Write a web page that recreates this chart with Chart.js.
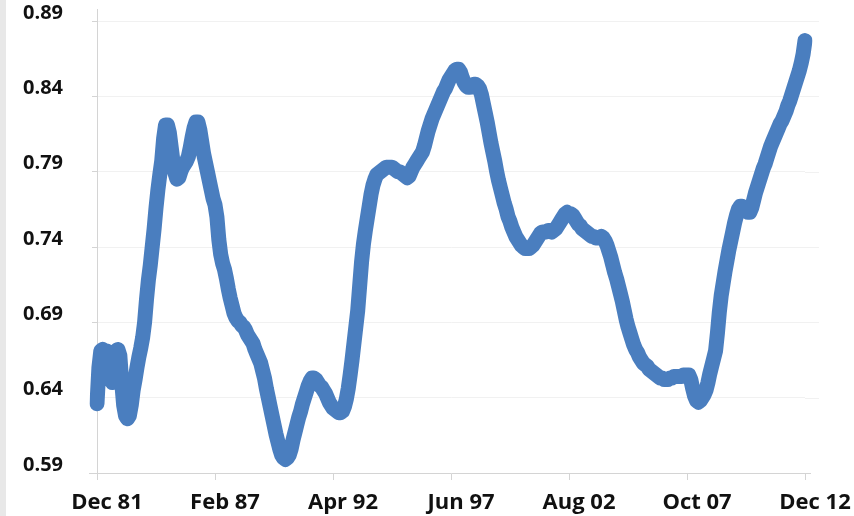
<!DOCTYPE html>
<html>
<head>
<meta charset="utf-8">
<script src="https://cdn.jsdelivr.net/npm/chart.js@4.4.1/dist/chart.umd.min.js"></script>
<style>
  html, body { margin: 0; padding: 0; background: #ffffff; }
  #wrap { width: 854px; height: 516px; }
</style>
</head>
<body>
<div id="wrap"><canvas id="chart" width="854" height="516"></canvas></div>
<script>
// Monthly series, December 1981 through December 2012
const monthNames = ['Jan','Feb','Mar','Apr','May','Jun','Jul','Aug','Sep','Oct','Nov','Dec'];
const startYear = 1981, startMonth = 11, monthCount = 373;
const categories = [];
for (let k = 0; k < monthCount; k++) {
  const m = (startMonth + k) % 12;
  const y = startYear + Math.floor((startMonth + k) / 12);
  categories.push(monthNames[m] + ' ' + String(y % 100).padStart(2, '0'));
}

const ratioValues = [
  0.636,0.660,0.671,0.672,0.671,0.671,0.669,0.660,0.650,0.665,
  0.671,0.672,0.668,0.650,0.635,0.628,0.626,0.628,0.635,0.645,
  0.652,0.660,0.667,0.673,0.680,0.690,0.705,0.718,0.728,0.740,
  0.752,0.766,0.778,0.788,0.797,0.812,0.821,0.821,0.816,0.806,
  0.796,0.789,0.785,0.786,0.790,0.793,0.795,0.797,0.800,0.806,
  0.813,0.819,0.823,0.823,0.818,0.810,0.802,0.796,0.790,0.784,
  0.778,0.772,0.768,0.760,0.745,0.735,0.729,0.725,0.719,0.712,
  0.706,0.701,0.696,0.693,0.691,0.690,0.688,0.687,0.685,0.682,
  0.680,0.678,0.676,0.672,0.669,0.666,0.663,0.658,0.653,0.646,
  0.640,0.634,0.628,0.622,0.616,0.611,0.606,0.602,0.600,0.599,
  0.600,0.602,0.606,0.612,0.617,0.622,0.627,0.631,0.636,0.640,
  0.644,0.648,0.651,0.653,0.653,0.652,0.650,0.648,0.647,0.645,
  0.643,0.640,0.637,0.635,0.633,0.632,0.631,0.630,0.630,0.631,
  0.634,0.639,0.646,0.655,0.665,0.676,0.687,0.698,0.714,0.730,
  0.742,0.751,0.759,0.767,0.775,0.781,0.785,0.788,0.789,0.790,
  0.791,0.792,0.793,0.793,0.793,0.793,0.792,0.791,0.790,0.790,
  0.789,0.788,0.787,0.786,0.787,0.790,0.793,0.795,0.797,0.799,
  0.801,0.803,0.807,0.812,0.817,0.821,0.825,0.828,0.831,0.834,
  0.837,0.840,0.843,0.845,0.848,0.851,0.853,0.855,0.857,0.858,
  0.858,0.856,0.852,0.849,0.847,0.846,0.846,0.847,0.848,0.848,
  0.847,0.845,0.841,0.835,0.829,0.823,0.816,0.809,0.803,0.797,
  0.790,0.784,0.779,0.774,0.769,0.765,0.760,0.757,0.753,0.750,
  0.747,0.745,0.743,0.741,0.740,0.739,0.739,0.739,0.740,0.741,
  0.743,0.745,0.747,0.749,0.750,0.750,0.750,0.751,0.751,0.750,
  0.751,0.752,0.754,0.756,0.758,0.760,0.762,0.763,0.762,0.762,
  0.761,0.759,0.757,0.755,0.754,0.752,0.751,0.750,0.749,0.748,
  0.747,0.747,0.746,0.746,0.746,0.747,0.746,0.744,0.741,0.737,
  0.733,0.728,0.723,0.719,0.714,0.709,0.704,0.698,0.692,0.687,
  0.683,0.679,0.675,0.672,0.670,0.667,0.665,0.663,0.662,0.661,
  0.659,0.658,0.657,0.656,0.655,0.654,0.653,0.653,0.652,0.652,
  0.652,0.653,0.653,0.654,0.654,0.654,0.654,0.654,0.655,0.655,
  0.655,0.655,0.652,0.646,0.641,0.638,0.637,0.638,0.640,0.642,
  0.645,0.650,0.656,0.661,0.666,0.671,0.683,0.697,0.708,0.716,
  0.724,0.731,0.738,0.744,0.750,0.756,0.761,0.765,0.767,0.767,
  0.766,0.764,0.763,0.763,0.766,0.771,0.776,0.780,0.784,0.788,
  0.792,0.795,0.799,0.803,0.807,0.810,0.813,0.816,0.819,0.822,
  0.824,0.827,0.830,0.834,0.837,0.841,0.845,0.849,0.853,0.857,
  0.862,0.868,0.877
];

const xTickLabels = ['Dec 81','Feb 87','Apr 92','Jun 97','Aug 02','Oct 07','Dec 12'];
const yTickValues = [0.59, 0.64, 0.69, 0.74, 0.79, 0.84, 0.89];

const axisGrey = '#d4d4d4';
const gridGrey = '#f1f1f1';
const labelFont = 'Open Sans';

// white page with a thin grey strip at the left edge, plus the small axis overhangs
const backdrop = {
  id: 'backdrop',
  beforeDraw(chart) {
    const c = chart.ctx;
    c.save();
    c.fillStyle = '#ffffff';
    c.fillRect(0, 0, chart.width, chart.height);
    c.fillStyle = '#e8e8e8';
    c.fillRect(0, 0, 6, chart.height);
    c.restore();
  },
  beforeDatasetsDraw(chart) {
    const a = chart.chartArea;
    const c = chart.ctx;
    const ys = chart.scales.y;
    c.save();
    c.lineWidth = 1;
    c.strokeStyle = gridGrey;
    yTickValues.slice(1).forEach(v => {
      const py = Math.round(ys.getPixelForValue(v)) + 0.5;
      c.beginPath(); c.moveTo(a.right, py); c.lineTo(a.right + 14, py); c.stroke();
    });
    c.strokeStyle = axisGrey;
    c.beginPath();
    c.moveTo(a.left + 0.5, a.top - 12); c.lineTo(a.left + 0.5, a.top);
    c.moveTo(a.left - 8, a.bottom + 0.5); c.lineTo(a.left, a.bottom + 0.5);
    c.moveTo(a.right, a.bottom + 0.5); c.lineTo(a.right + 6, a.bottom + 0.5);
    c.stroke();
    c.restore();
  }
};

new Chart(document.getElementById('chart'), {
  type: 'line',
  data: {
    labels: categories,
    datasets: [{
      data: ratioValues,
      borderColor: '#4A7EBF',
      borderWidth: 15,
      borderCapStyle: 'round',
      borderJoinStyle: 'round',
      pointRadius: 0,
      pointHoverRadius: 0,
      tension: 0,
      fill: false
    }]
  },
  options: {
    responsive: false,
    animation: false,
    devicePixelRatio: 1,
    layout: { padding: { top: 21, right: 49, left: 0, bottom: 0 } },
    plugins: { legend: { display: false }, tooltip: { enabled: false } },
    scales: {
      x: {
        type: 'category',
        offset: false,
        afterFit(s) { s.height = 43; s.paddingLeft = 0; s.paddingRight = 0; },
        border: { color: axisGrey },
        grid: {
          display: true,
          drawOnChartArea: false,
          tickLength: 7,
          color: ctx => (ctx.tick && ctx.tick.label) ? axisGrey : 'rgba(0,0,0,0)'
        },
        ticks: {
          autoSkip: false,
          maxRotation: 0,
          minRotation: 0,
          padding: 10,
          labelOffset: 10,
          color: '#111111',
          font: { family: labelFont, weight: 'bold', size: 22 },
          callback(value) {
            const l = this.getLabelForValue(value);
            return xTickLabels.includes(l) ? l : null;
          }
        }
      },
      y: {
        min: 0.59,
        max: 0.89,
        afterFit(s) { s.width = 97; s.paddingTop = 0; s.paddingBottom = 0; },
        afterBuildTicks(s) { s.ticks = yTickValues.map(v => ({ value: v })); },
        border: { color: axisGrey },
        grid: { color: gridGrey, tickColor: axisGrey, tickLength: 5 },
        ticks: {
          padding: 29,
          labelOffset: -8,
          color: '#111111',
          font: { family: labelFont, weight: 'bold', size: 20 },
          callback: v => Number(v).toFixed(2)
        }
      }
    }
  },
  plugins: [backdrop]
});
</script>
</body>
</html>
